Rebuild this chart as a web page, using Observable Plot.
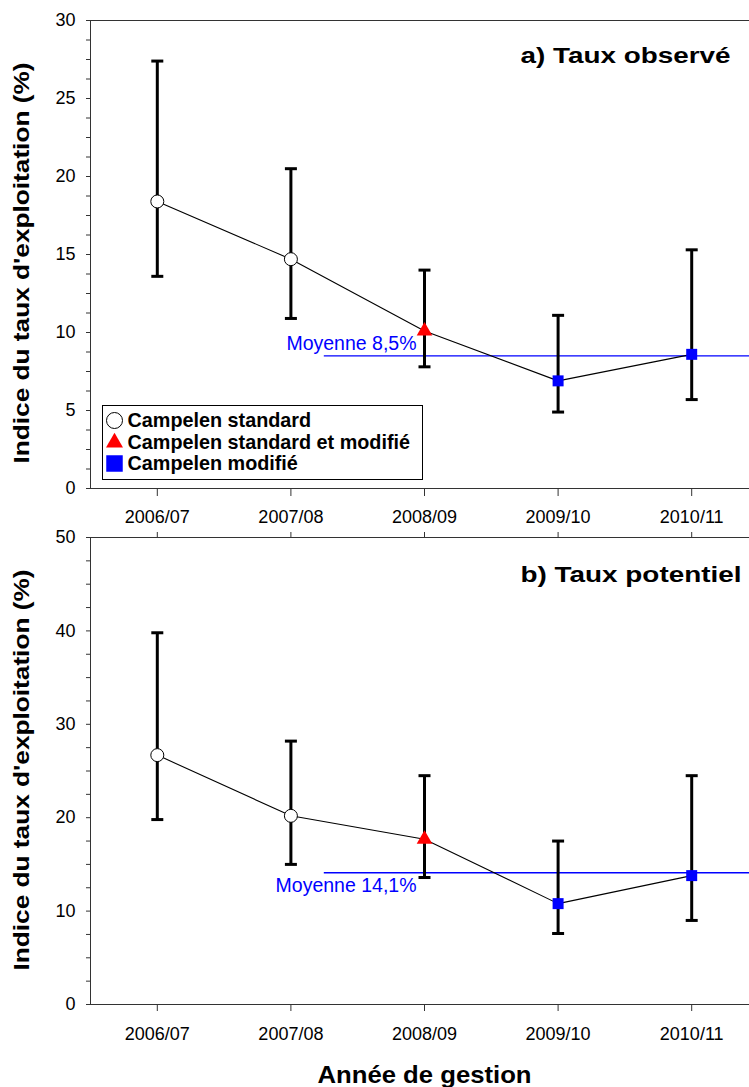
<!DOCTYPE html>
<html><head><meta charset="utf-8">
<script src="https://cdn.jsdelivr.net/npm/d3@7"></script>
<script src="https://cdn.jsdelivr.net/npm/@observablehq/plot@0.6"></script>
<style>
html,body{margin:0;padding:0;background:#fff;overflow:hidden;}
#page{position:relative;width:749px;height:1087px;overflow:hidden;font-family:"Liberation Sans",Arial,Helvetica,sans-serif;background:#fff;}
.panel{position:absolute;left:0;}
#legend{position:absolute;left:102px;top:405px;}
</style></head>
<body><div id="page"><div id="pa" class="panel" style="top:0"></div><div id="pb" class="panel" style="top:527px"></div><div id="legend"></div></div>
<script>
// ---- data ----
const years = ["2006/07", "2007/08", "2008/09", "2009/10", "2010/11"];
const method = ["std", "std", "both", "mod", "mod"];
const methodLabels = ["Campelen standard", "Campelen standard et modifié", "Campelen modifié"];
const methodKeys = ["std", "both", "mod"];
const obsMid = [18.4, 14.7, 10.1, 6.9, 8.6];
const obsLo  = [13.6, 10.9, 7.8, 4.9, 5.7];
const obsHi  = [27.4, 20.5, 14.0, 11.1, 15.3];
const obsMean = 8.5;
const potMid = [26.7, 20.2, 17.7, 10.8, 13.8];
const potLo  = [19.8, 15.0, 13.6, 7.6, 9.0];
const potHi  = [39.8, 28.2, 24.5, 17.5, 24.5];
const potMean = 14.1;
const meanStart = 1.25; // mean line begins between 2007/08 and 2008/09
const yLabel = "Indice du taux d'exploitation (%)";
const xLabel = "Année de gestion";

const FONT = '"Liberation Sans", Arial, Helvetica, sans-serif';
const BLUE = "#0000ff", RED = "#ff0000";
const capSymbol = {draw(ctx, size) { const w = Math.sqrt(size / Math.PI); ctx.moveTo(-w, 0); ctx.lineTo(w, 0); }};

function stretch(svg, txt, len) {
  d3.select(svg).selectAll("text").filter(function() { return this.textContent === txt; })
    .attr("textLength", len).attr("lengthAdjust", "spacingAndGlyphs");
}

function panel(o) {
  const data = years.map((y, i) => ({i, m: method[i], mid: o.mid[i], lo: o.lo[i], hi: o.hi[i]}));
  const idx = d3.range(years.length);
  const marks = [
    Plot.frame({stroke: "#333"}),
    Plot.axisY({ticks: d3.range(0, o.yMax + 1e-9, o.minor), tickSize: 4, tickPadding: 11, fontSize: 18, stroke: "#333",
      tickFormat: d => (Math.abs(d / o.major - Math.round(d / o.major)) < 1e-9 ? String(d) : ""), label: null}),
    Plot.axisX({ticks: idx, tickFormat: i => years[i], tickSize: o.tickSize, tickPadding: o.tickPadding, fontSize: 18, stroke: "#333", label: null}),
  ];
  if (o.topTicks) marks.push(Plot.axisX({anchor: "top", ticks: idx, tickSize: 6, tickFormat: () => "", stroke: "#333", label: null}));
  marks.push(
    Plot.ruleY([o.mean], {y: d => d, x1: meanStart, x2: years.length - 0.5, stroke: BLUE, strokeWidth: 1.4}),
    Plot.text([o.mean], {x: years.indexOf("2008/09"), y: d => d, text: () => o.meanLabel, textAnchor: "end", dx: -8,
      lineAnchor: o.meanAnchor, dy: o.meanDy, fill: BLUE, fontSize: 19.5}),
    Plot.ruleX(data, {x: "i", y1: "lo", y2: "hi", stroke: "black", strokeWidth: 3}),
    Plot.dot(data, {x: "i", y: "hi", symbol: capSymbol, r: 6, stroke: "black", strokeWidth: 3}),
    Plot.dot(data, {x: "i", y: "lo", symbol: capSymbol, r: 6, stroke: "black", strokeWidth: 3}),
    Plot.line(data, {x: "i", y: "mid", stroke: "black", strokeWidth: 1.1}),
    Plot.dot(data.filter(d => d.m === "std"), {x: "i", y: "mid", r: 6.5, fill: "white", stroke: "black", strokeWidth: 1}),
    Plot.dot(data.filter(d => d.m === "both"), {x: "i", y: "mid", symbol: "triangle", r: 5.8, fill: RED}),
    Plot.dot(data.filter(d => d.m === "mod"), {x: "i", y: "mid", symbol: "square", r: 6.2, fill: BLUE}),
    Plot.text([o.title], {frameAnchor: "top-right", textAnchor: "end", lineAnchor: "top", dx: o.titleDx, dy: o.titleDy, fontSize: 22, fontWeight: "bold"}),
    Plot.text([yLabel], {frameAnchor: "left", rotate: -90, textAnchor: "start", dx: -68.5, dy: o.yLabDy, fontSize: 22, fontWeight: "bold"})
  );
  if (o.xTitle) marks.push(Plot.text([o.xTitle], {frameAnchor: "bottom", lineAnchor: "top", dy: o.xTitleDy, fontSize: 24, fontWeight: "bold"}));
  const svg = Plot.plot({
    width: 758, height: o.height,
    marginLeft: 90, marginRight: 0, marginTop: o.marginTop, marginBottom: o.marginBottom,
    style: {fontFamily: FONT, color: "black", background: "transparent", maxWidth: "none", overflow: "hidden"},
    x: {type: "linear", domain: [-0.5, years.length - 0.5]},
    y: {domain: [0, o.yMax]},
    marks
  });
  stretch(svg, o.title, o.titleLen);
  stretch(svg, yLabel, 401);
  if (o.xTitle) stretch(svg, o.xTitle, 214);
  return svg;
}

document.getElementById("pa").appendChild(panel({
  mid: obsMid, lo: obsLo, hi: obsHi, mean: obsMean, yMax: 30, major: 5, minor: 1.25,
  height: 527, marginTop: 20, marginBottom: 39, tickSize: 8, tickPadding: 14,
  meanLabel: "Moyenne 8,5%", meanAnchor: "bottom", meanDy: -6,
  title: "a) Taux observé", titleDx: -28, titleDy: 27, titleLen: 210, yLabDy: 209
}));
document.getElementById("pb").appendChild(panel({
  mid: potMid, lo: potLo, hi: potHi, mean: potMean, yMax: 50, major: 10, minor: 2.5,
  height: 560, marginTop: 10, marginBottom: 83, tickSize: 7, tickPadding: 16, topTicks: true,
  meanLabel: "Moyenne 14,1%", meanAnchor: "top", meanDy: 5,
  title: "b) Taux potentiel", titleDx: -17, titleDy: 29, titleLen: 221, yLabDy: 199.5,
  xTitle: xLabel, xTitleDy: 61
}));

// ---- legend (inside panel a) ----
const lg = d3.select("#legend").append("svg").attr("width", 322).attr("height", 76)
  .style("font-family", FONT);
lg.append("rect").attr("x", 0.5).attr("y", 0.5).attr("width", 320).attr("height", 74)
  .attr("fill", "white").attr("stroke", "black");
const rowY = [15.5, 37.5, 58.5], baseY = [22.3, 43.7, 65];
methodKeys.forEach((k, j) => {
  const g = lg.append("g").attr("transform", `translate(12.5,${rowY[j]})`);
  if (k === "std") g.append("circle").attr("r", 8).attr("fill", "white").attr("stroke", "black").attr("stroke-width", 1);
  if (k === "both") g.append("path").attr("d", d3.symbol(d3.symbolTriangle, 125)()).attr("fill", RED);
  if (k === "mod") g.append("path").attr("d", d3.symbol(d3.symbolSquare, 272)()).attr("fill", BLUE);
  lg.append("text").attr("x", 25.5).attr("y", baseY[j]).attr("font-size", 19.8).attr("font-weight", "bold").text(methodLabels[j]);
});
</script>
</body></html>
